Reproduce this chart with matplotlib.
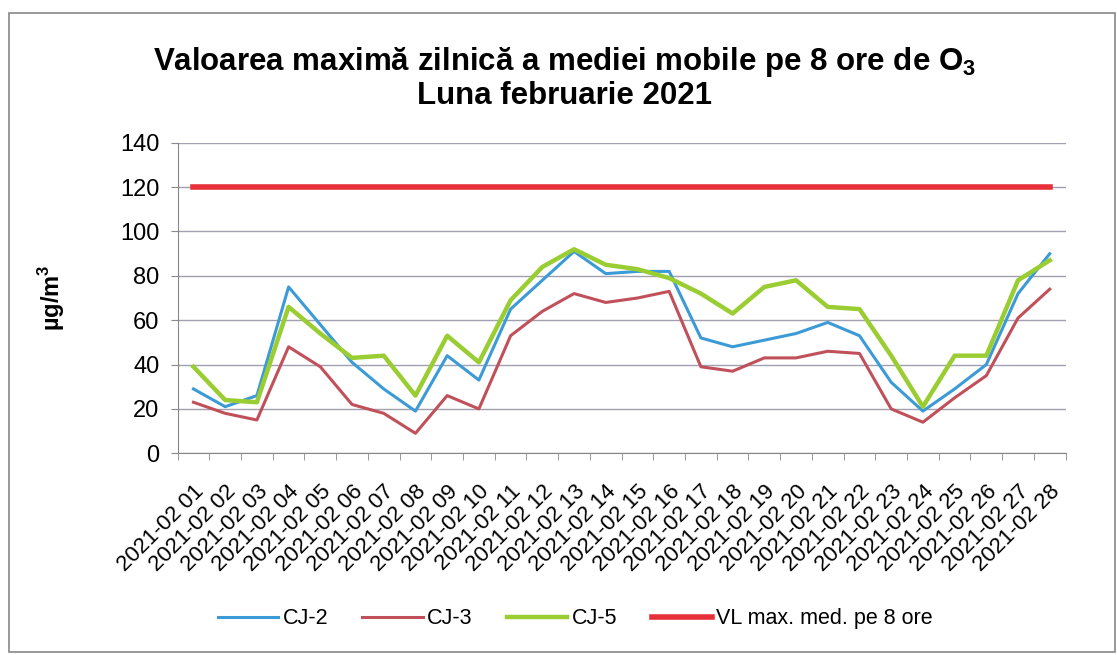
import matplotlib
matplotlib.use("Agg")
import matplotlib.pyplot as plt
from matplotlib.patches import Rectangle

plt.rcParams['font.family'] = ['Liberation Sans', 'DejaVu Sans']
plt.rcParams['mathtext.fontset'] = 'custom'
plt.rcParams['mathtext.rm'] = 'Liberation Sans'
plt.rcParams['mathtext.bf'] = 'Liberation Sans:bold'

days = [f"2021-02 {d:02d}" for d in range(1, 29)]
cj2 = [29, 21, 26, 75, 58, 41, 29, 19, 44, 33, 65, 78, 91, 81, 82, 82, 52, 48, 51, 54, 59, 53, 32, 19, 29, 40, 72, 90]
cj3 = [23, 18, 15, 48, 39, 22, 18, 9, 26, 20, 53, 64, 72, 68, 70, 73, 39, 37, 43, 43, 46, 45, 20, 14, 25, 35, 61, 74]
cj5 = [39, 24, 23, 66, 54, 43, 44, 26, 53, 41, 69, 84, 92, 85, 83, 79, 72, 63, 75, 78, 66, 65, 44, 21, 44, 44, 78, 87]
vl = [120] * 28

fig = plt.figure(figsize=(11.17, 6.55), dpi=100)
fig.patches.append(Rectangle((0.008, 0.005), 0.99, 0.975, transform=fig.transFigure,
                             fill=False, edgecolor='#888888', linewidth=1.2))
ax = fig.add_axes([0.159, 0.308, 0.795, 0.474])

x = list(range(len(days)))
ax.plot(x, cj2, color='#3c9bd6', linewidth=2.2, label='CJ-2', zorder=3)
ax.plot(x, cj3, color='#c0505a', linewidth=2.2, label='CJ-3', zorder=3)
ax.plot(x, cj5, color='#9acd32', linewidth=3.2, label='CJ-5', zorder=3)
ax.plot(x, vl, color='#e8303a', linewidth=4, label='VL max. med. pe 8 ore', zorder=3)

ax.set_xlim(-0.5, len(days) - 0.5)
ax.set_ylim(0, 140)
ax.set_yticks(range(0, 141, 20))
ax.tick_params(axis='y', labelsize=17, length=5, color='#888888', direction='out', pad=8)
ax.set_xticks([i - 0.5 for i in range(len(days) + 1)], minor=True)
ax.set_xticks(x)
ax.set_xticklabels(days, rotation=45, ha='right', rotation_mode='anchor', fontsize=16)
ax.tick_params(axis='x', which='major', length=0, pad=20)
ax.tick_params(axis='x', which='minor', length=5, color='#888888')
ax.grid(axis='y', color='#a0a0b0', linewidth=1)
for s in ['top', 'right']:
    ax.spines[s].set_visible(False)
for s in ['left', 'bottom']:
    ax.spines[s].set_color('#888888')

ax.set_ylabel('µg/m$^\\mathbf{3}$', fontsize=17, fontweight='bold', labelpad=38)

fig.text(0.505, 0.905, 'Valoarea maximă zilnică a mediei mobile pe 8 ore de O$_\\mathbf{3}$',
         ha='center', va='center', fontsize=22.5, fontweight='bold')
fig.text(0.505, 0.854, 'Luna februarie 2021', ha='center', va='center',
         fontsize=22.5, fontweight='bold')

fig.legend(loc='center', bbox_to_anchor=(0.515, 0.055), ncol=4, frameon=False,
           fontsize=15.5, handlelength=2.8, columnspacing=1.6, handletextpad=0.2)

fig.savefig('out.png', dpi=100)
